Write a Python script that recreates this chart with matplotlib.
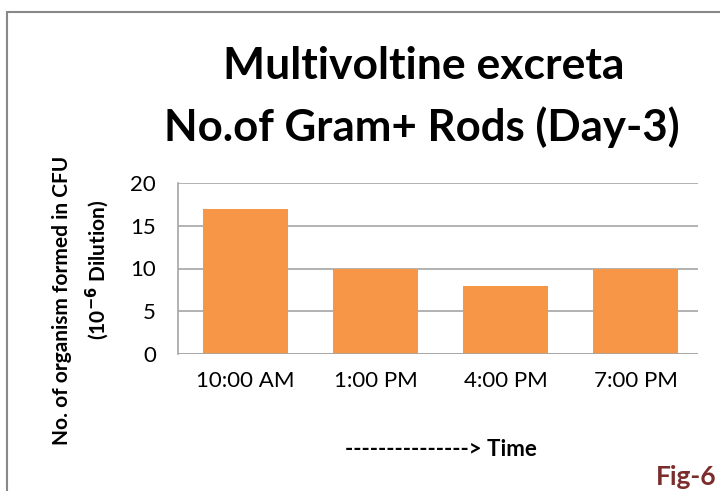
import matplotlib.pyplot as plt
from matplotlib.patches import Rectangle

times = ['10:00 AM', '1:00 PM', '4:00 PM', '7:00 PM']
counts = [17, 10, 8, 10]

plt.rcParams['font.family'] = ['Lato', 'DejaVu Sans']

fig = plt.figure(figsize=(7.2, 4.91), dpi=100)
ax = fig.add_axes([178 / 720, 1 - 354 / 491, 520 / 720, 171 / 491])

ax.bar(range(len(times)), counts, width=0.65, color='#F79646', zorder=3)
ax.set_xlim(-0.52, 3.48)
ax.set_ylim(0, 20)
ax.set_yticks([0, 5, 10, 15, 20])
ax.set_xticks(range(len(times)))
ax.set_xticklabels(times)
ax.tick_params(axis='both', length=0, labelsize=16, pad=12)
ax.tick_params(axis='y', pad=16)
ax.grid(axis='y', color='#A6A6A6', linewidth=1.2, zorder=0)
for s in ['top', 'right', 'bottom']:
    ax.spines[s].set_visible(False)
ax.spines['left'].set_color('#A6A6A6')
ax.spines['left'].set_linewidth(1.2)
ax.axhline(0, color='#A6A6A6', linewidth=1.2, zorder=4)

fig.text(424 / 720, 1 - 66 / 491, 'Multivoltine excreta', ha='center', va='center',
         fontsize=32, fontweight='bold')
fig.text(422 / 720, 1 - 127 / 491, 'No.of Gram+ Rods (Day-3)', ha='center', va='center',
         fontsize=31.5, fontweight='bold')

fig.text(62 / 720, 1 - 300 / 491, 'No. of organism formed in CFU', rotation=90,
         ha='center', va='center', fontsize=15, fontweight='bold')
fig.text(97 / 720, 1 - 270 / 491, r'(10$^{\mathbf{-6}}$ Dilution)', rotation=90,
         ha='center', va='center', fontsize=15, fontweight='bold')

fig.text(441 / 720, 1 - 449 / 491, '---------------> Time', ha='center', va='center',
         fontsize=16, fontweight='bold')
fig.text(717 / 720, 1 - 477 / 491, 'Fig-6', ha='right', va='center',
         fontsize=19, fontweight='bold', color='#7B2C2C')

fig.patches.append(Rectangle((7 / 720, -0.2), 1.2, 1 - 12 / 491 + 0.2,
                             transform=fig.transFigure, fill=False,
                             edgecolor='#888888', linewidth=1.5))

fig.savefig('out.png', dpi=100)
